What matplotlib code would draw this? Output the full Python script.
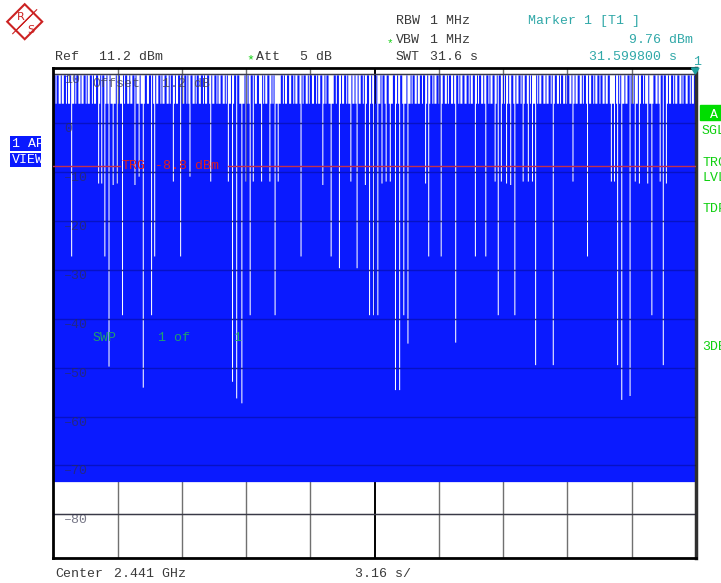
import matplotlib
matplotlib.use('Agg')
import matplotlib.pyplot as plt
from matplotlib.patches import Polygon, Rectangle
import numpy as np

W, H = 721, 583

# instrument settings
ref_level = 11.2      # dBm, top of the screen
range_db = 100.0      # 10 dB/div
sweep_time = 31.6     # s, zero span
trg_level = -8.8      # dBm

grid_db = [10, 0, -10, -20, -30, -40, -50, -60, -70, -80]
grid_text = ['10', '0', '-10', '-20', '-30', '-40', '-50', '-60', '-70', '-80']

# trace levels
floor_db = -73.3      # noise floor (bottom of the blue band)
base_db = 4.0         # most points reach this
spike_db = 9.8        # comb of strong bursts along the top

# one char per sweep point: '|' strong burst, '.' normal burst
comb = [
    "||.||..|..||.|..||..|.||..|..||.|..||.|..||..|.||..|.||..|..||",
    ".|..||.||..|..||.|..||..|.||..||.|..|..||.|..||..|.||..|..||.|",
    "..||.|..||..|.||..||.|..||..|..||.|..||..|.||..|..||.||..|..||",
    ".|..||.|..||..||.|..||..|.||..|..||.|..||..||.|..||..|.||..|.|",
    "|..||.|..||..|.||..|..||.||..|..||.|..||..|.||..||.|..||..|..|",
    ".||..|.||..||.|..||..|..||.|..||..|.||..|..||.||..|..||.|..||.",
    "|..||..|.||..|..||.|..||..||.|..||..|.||..|..||.|..||..|.||..|",
    ".||.|..||..|..||.|..||..|.||..||.|..||..|..||.|..||..|.||..|.|",
    "|..||.|..||..|.||..|..||.|..||.||..|..||.|..||..|.||..|..||.|.",
    ".||..|..||.|..||..|.||..|..||.||..|..||.|..||..|.||..||.|..|||",
]

# sweep points whose peak stays low (the white lines), time in s and level in dBm
notch_t = [0.875, 2.203, 2.370, 2.484, 2.730, 2.926, 3.108, 3.384, 3.959, 4.170,
           4.367, 4.780, 4.943, 5.892, 6.221, 6.664, 7.731, 8.597, 8.793, 9.010,
           9.221, 9.467, 9.629, 9.826, 10.205, 10.613, 10.859, 11.026, 12.138, 13.239,
           13.647, 14.056, 14.582, 14.911, 15.319, 15.531, 15.728, 15.924, 16.121, 16.352,
           16.564, 16.795, 16.977, 17.203, 17.420, 18.285, 18.452, 19.057, 19.761, 20.744,
           21.222, 21.679, 21.827, 22.023, 22.254, 22.466, 22.663, 23.076, 23.322, 23.518,
           23.695, 24.551, 25.549, 26.252, 27.433, 27.580, 27.727, 27.924, 28.318, 28.564,
           28.780, 29.188, 29.399, 29.793, 29.990, 30.138]
notch_db = [-27.2, -12.3, -12.3, -27.2, -49.7, -12.6, -12.3, -39.2, -12.6, -10.9,
            -54.0, -39.2, -27.2, -11.9, -27.2, -10.9, -11.9, -11.9, -52.8, -56.2,
            -57.2, -11.9, -39.2, -11.9, -11.9, -11.9, -39.2, -11.9, -27.2, -12.6,
            -27.2, -29.6, -11.9, -29.6, -12.6, -39.2, -39.2, -39.2, -12.3, -11.9,
            -11.9, -54.5, -54.5, -39.2, -45.0, -12.3, -27.2, -27.2, -44.8, -27.2,
            -27.2, -11.9, -39.2, -11.9, -12.3, -12.6, -39.2, -11.9, -11.9, -11.9,
            -49.4, -49.4, -11.9, -27.2, -11.9, -11.9, -49.4, -56.5, -55.7, -11.9,
            -12.3, -12.3, -39.2, -11.9, -49.4, -12.3]

blue = '#0a1aff'
teal = '#30a8a8'
green = '#10d010'
dark = '#3a3a3a'
mono = 'Liberation Mono'
fs = 9.5

pattern = ''.join(comb)
n = len(pattern)
t = np.linspace(0, sweep_time, n)
peak = np.where(np.array(list(pattern)) == '|', spike_db, base_db)
for tn, d in zip(notch_t, notch_db):
    peak[np.argmin(np.abs(t - tn))] = d

fig = plt.figure(figsize=(W / 100, H / 100), dpi=100)
fig.patch.set_facecolor('white')


def px(x, y):
    return x / W, 1 - y / H


def ftext(x, y, s, **kw):
    kw.setdefault('family', mono)
    kw.setdefault('fontsize', fs)
    kw.setdefault('color', dark)
    kw.setdefault('va', 'baseline')
    kw.setdefault('zorder', 12)
    fig.text(x / W, 1 - y / H, s, **kw)


# plot area in pixels: x 53.5..696, y 68..557.5
ax = fig.add_axes([53.5 / W, (H - 557.5) / H, (696 - 53.5) / W, (557.5 - 68) / H])
ax.set_xlim(0, sweep_time)
ax.set_ylim(ref_level - range_db, ref_level)
ax.set_xticks([])
ax.set_yticks([])
for s in ax.spines.values():
    s.set_linewidth(2)
    s.set_color('black')
ax.spines['right'].set_color('#303030')
ax.spines['right'].set_linewidth(2.5)


def x2t(x):
    return (x - 53.5) / (696 - 53.5) * sweep_time


# grid under the trace
div = sweep_time / 10
for k in range(1, 10):
    if k == 5:
        ax.axvline(k * div, color='black', lw=1.4, zorder=1)
    else:
        ax.axvline(k * div, color='#707070', lw=1, zorder=1)
for g in grid_db:
    ax.axhline(g, color='#505050', lw=1, zorder=1)

# trace: every sweep point filled from the floor to its peak (no smoothing, like the screen)
ax.fill_between(t, floor_db, peak, step='mid', color=blue, lw=0, zorder=2,
                antialiased=False)

# grid again, faint, over the trace
for g in grid_db:
    ax.axhline(g, color='#000030', lw=1, alpha=0.28, zorder=3)
for g, lab in zip(grid_db, grid_text):
    ax.text(x2t(64), g, lab.replace('-', '\u2013'), family=mono, fontsize=fs,
            color='#303048', alpha=0.65, ha='left', va='top', zorder=4)
ax.text(x2t(92), 8.0, 'Offset', family=mono, fontsize=fs, color='#404050',
        alpha=0.8, ha='left', va='center', zorder=4)
ax.text(x2t(162), 8.0, '1.2 dB', family=mono, fontsize=fs, color='#404050',
        alpha=0.8, ha='left', va='center', zorder=4)

# trigger level line with its label
ax.plot([0, x2t(120)], [trg_level, trg_level], color='#c03050', lw=1, zorder=4)
ax.plot([x2t(228), sweep_time], [trg_level, trg_level], color='#c03050', lw=1, zorder=4)
ax.text(x2t(121), trg_level, 'TRG', family=mono, fontsize=fs, color='#e02020',
        ha='left', va='center', zorder=5)
ax.text(x2t(155), trg_level, '-8.8 dBm', family=mono, fontsize=fs, color='#e02020',
        ha='left', va='center', zorder=5)

# sweep count
swp_y = ref_level - (338 - 68) / 4.895
ax.text(x2t(93), swp_y, 'SWP', family=mono, fontsize=fs, color='#20a070',
        ha='left', va='center', zorder=5)
ax.text(x2t(158), swp_y, '1 of', family=mono, fontsize=fs, color='#20a070',
        ha='left', va='center', zorder=5)
ax.text(x2t(233), swp_y, '1', family=mono, fontsize=fs, color='#20a070',
        ha='left', va='center', zorder=5)

# header
ftext(55, 60, 'Ref')
ftext(99, 60, '11.2 dBm')
ftext(246, 63, '*', color=green)
ftext(256, 60, 'Att')
ftext(300, 60, '5 dB')
ftext(396, 24, 'RBW')
ftext(430, 24, '1 MHz')
ftext(387, 46, '*', color=green, fontsize=8)
ftext(396, 43, 'VBW')
ftext(430, 43, '1 MHz')
ftext(396, 60, 'SWT')
ftext(430, 60, '31.6 s')
ftext(528, 24, 'Marker 1 [T1 ]', color=teal)
ftext(693, 43, '9.76 dBm', color=teal, ha='right')
ftext(677, 60, '31.599800 s', color=teal, ha='right')
ftext(693, 65, '1', color=teal)
fig.patches.append(Polygon([px(691.5, 68), px(699, 68), px(695.3, 74)], closed=True,
                           transform=fig.transFigure, color='#20a0a0', zorder=10))

# footer
ftext(55, 577, 'Center')
ftext(114, 577, '2.441 GHz')
ftext(355, 577, '3.16 s/')

# trace info box on the left
for y0, y1, s in [(136.5, 151, '1 AP'), (152.5, 166.5, 'VIEW')]:
    bx = fig.add_axes([10 / W, (H - y1) / H, 31 / W, (y1 - y0) / H])
    bx.set_facecolor(blue)
    bx.set_xticks([])
    bx.set_yticks([])
    for sp in bx.spines.values():
        sp.set_visible(False)
    bx.text(0.05, 0.05, s, transform=bx.transAxes, family=mono, fontsize=fs,
            color='white', ha='left', va='bottom', clip_on=True)

# status labels on the right (cut by the screen edge, as on the instrument)
fig.patches.append(Rectangle(px(700, 120), 21 / W, 15 / H, transform=fig.transFigure,
                             color='#00dd00', zorder=10))
ftext(710, 118, 'A', color='white')
for y, s in [(134, 'SGL'), (166, 'TRG'), (181, 'LVL'), (212, 'TDF'), (350, '3DB')]:
    ftext(702, y, s, color=green)

# R&S logo
cx, cy, r = 24.7, 21.7, 17.5
fig.patches.append(Polygon([px(cx, cy - r), px(cx + r, cy), px(cx, cy + r), px(cx - r, cy)],
                           closed=True, transform=fig.transFigure, fill=False,
                           edgecolor='#cc2222', lw=1.5))
for d in [-3, 0, 3]:
    fig.lines.append(plt.Line2D([(cx - 9 + d) / W, (cx + 9 + d) / W],
                                [1 - (cy + 9 - d) / H, 1 - (cy - 9 - d) / H],
                                transform=fig.transFigure, color='#cc2222', lw=0.8))
ftext(17, 20, 'R', color='#cc2222', family='DejaVu Sans', fontsize=8)
ftext(27, 33, 'S', color='#cc2222', family='DejaVu Sans', fontsize=8)

fig.savefig('out.png', dpi=100)
